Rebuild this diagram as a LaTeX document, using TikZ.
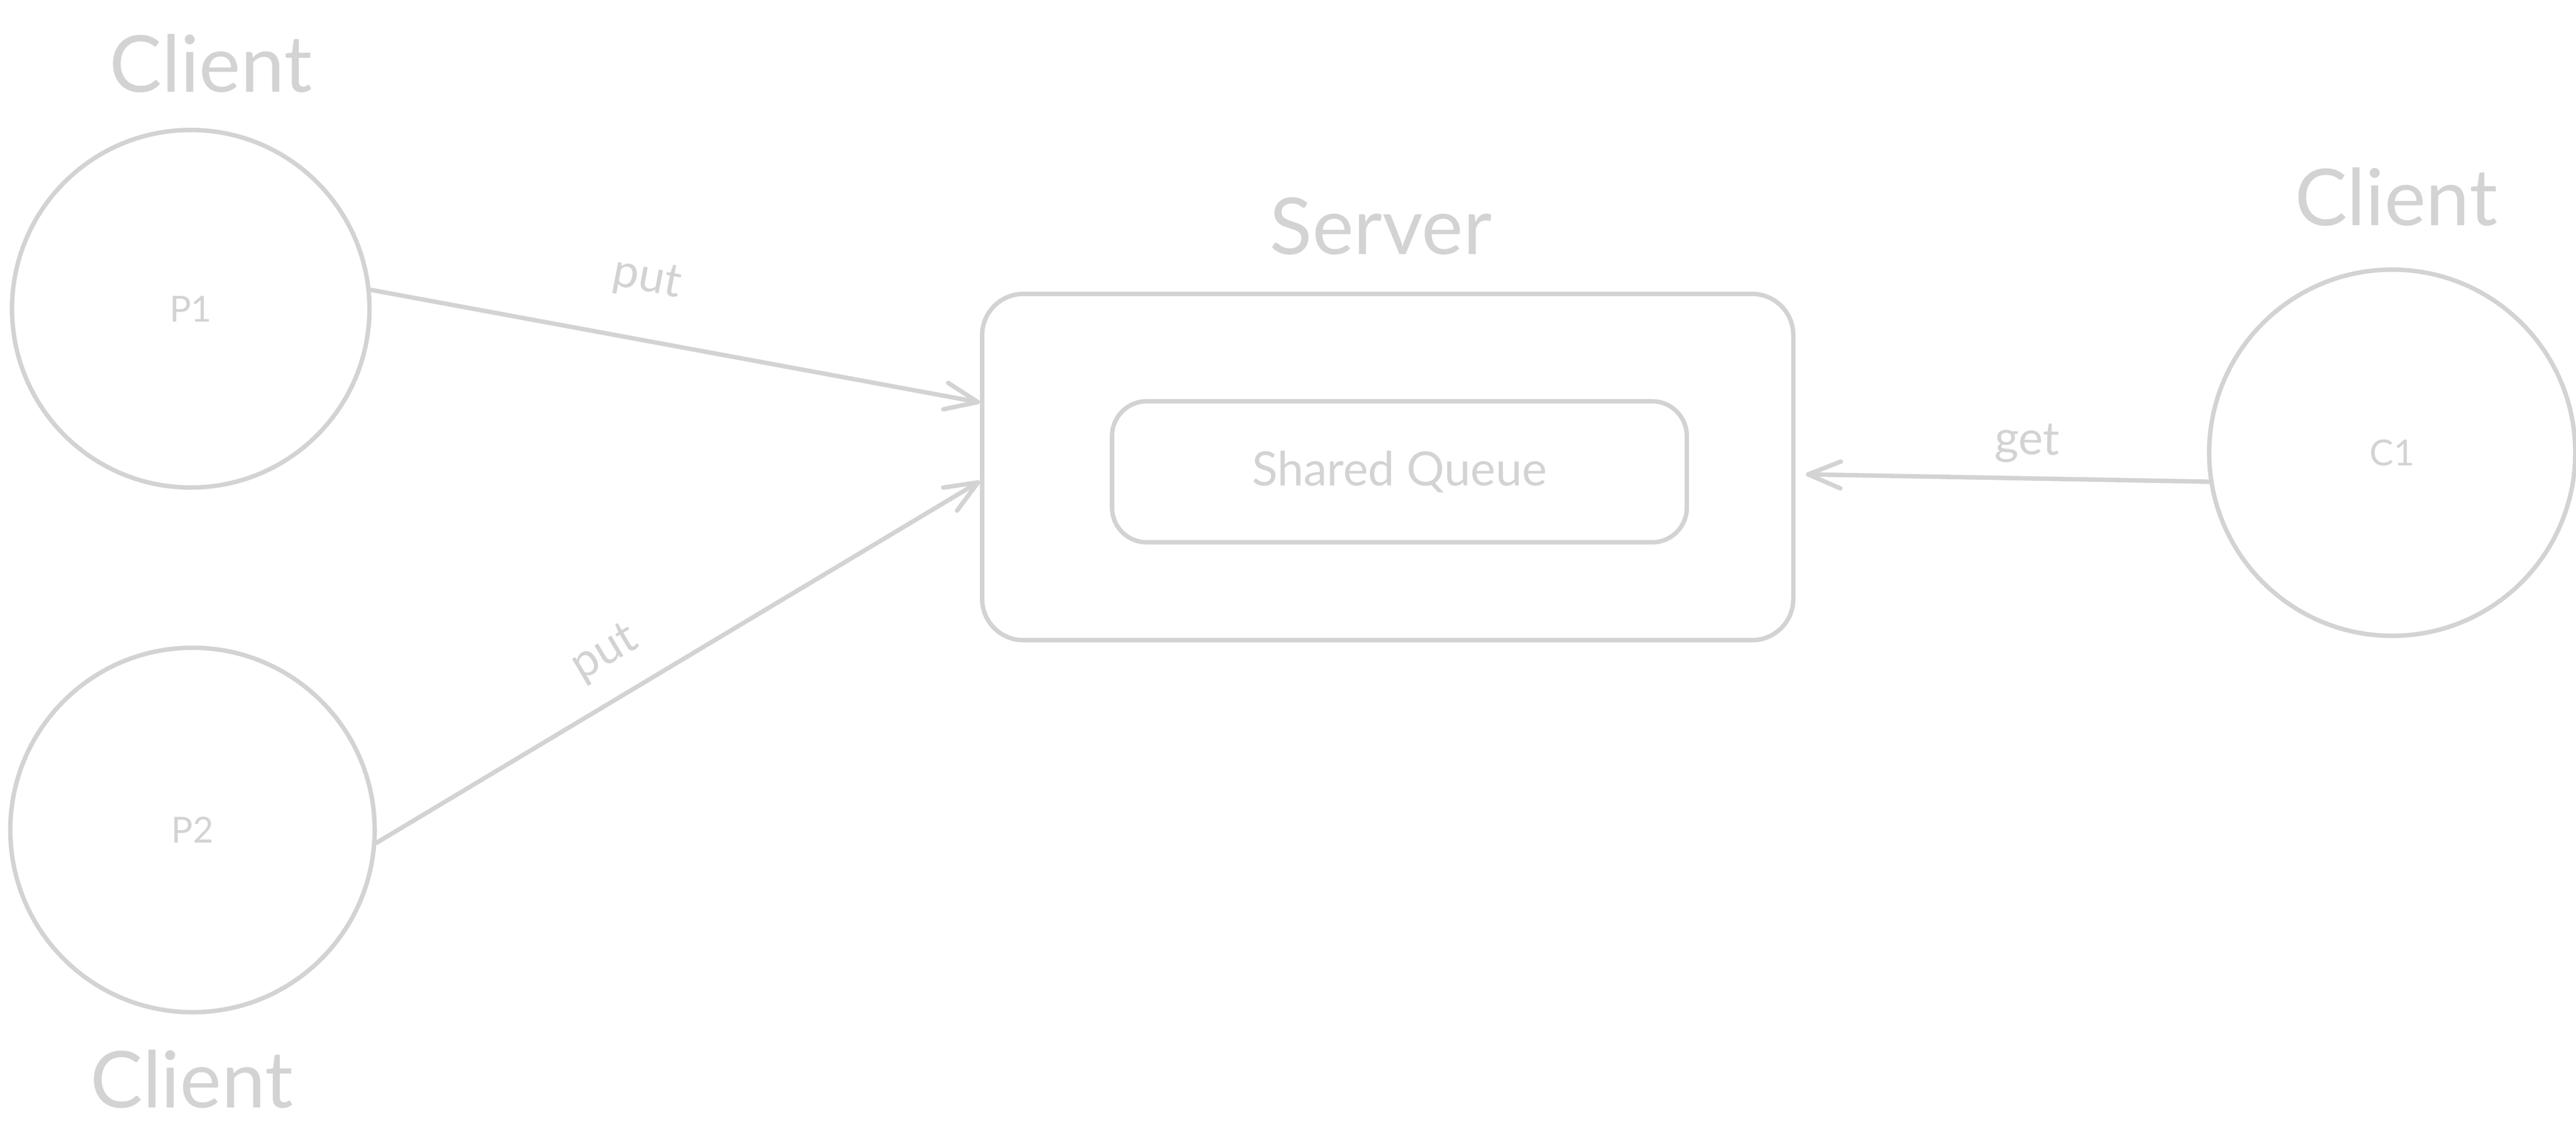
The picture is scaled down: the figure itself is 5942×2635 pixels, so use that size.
\documentclass[tikz,border=0pt]{standalone}
\usepackage{fontspec}
\setmainfont{Lato}
\usetikzlibrary{arrows.meta}
\definecolor{sk}{RGB}{211,211,211}
\tikzset{
  stroke/.style={draw=sk, line width=2.9pt, line cap=round, line join=round},
  clientnode/.style={stroke, circle, inner sep=0pt, text=sk, font=\fontsize{23.5}{28}\selectfont},
  boxnode/.style={stroke, rectangle, inner sep=0pt},
  biglabel/.style={text=sk, font=\fontsize{51.5}{60}\selectfont, anchor=base, inner sep=0pt},
  edgelabel/.style={text=sk, font=\fontsize{30.5}{36}\selectfont, inner sep=0pt},
  conn/.style={stroke, -{Straight Barb[length=0.75cm, width=0.62cm, line cap=round, line join=round]}},
}
\begin{document}
\begin{tikzpicture}[x=0.01cm, y=-0.01cm]
\useasboundingbox (0,0) rectangle (5942,2635);
% clients
\node[clientnode, minimum size=8.24cm] (p1) at (440,712) {P1};
\node[clientnode, minimum size=8.40cm] (p2) at (444,1914) {P2};
\node[clientnode, minimum size=8.44cm] (c1) at (5518,1044) {C1};
\node[biglabel] (p1lbl) at (486,212) {Client};
\node[biglabel] (p2lbl) at (442,2555) {Client};
\node[biglabel] (c1lbl) at (5527,520) {Client};
% server
\node[boxnode, rounded corners=0.95cm, minimum width=18.70cm, minimum height=7.98cm] (server) at (3201,1077) {};
\node[biglabel] (serverlbl) at (3185,586) {Server};
\node[boxnode, rounded corners=0.8cm, minimum width=13.25cm, minimum height=3.25cm, text=sk, font=\fontsize{31}{36}\selectfont] (queue) at (3228,1088) {Shared Queue};
% connectors
\draw[conn] (p1.6) -- (server.171.5);
\draw[conn] (p2.-4) -- (server.182.3);
\draw[conn, shorten >=0.24cm] (c1.189) -- (server.359);
% connector labels
\node[edgelabel, rotate=-10.9] (put1) at (1492,645) {put};
\node[edgelabel, rotate=30.6] (put2) at (1396,1507) {put};
\node[edgelabel, rotate=-1.2] (get1) at (4676,1022) {get};
\end{tikzpicture}
\end{document}
